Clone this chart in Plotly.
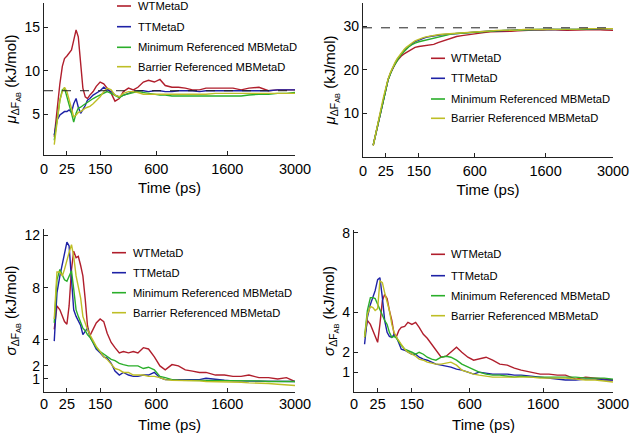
import numpy as np
import plotly.graph_objects as go

# ---------------- data ----------------
TIME_PS = [5, 8, 12, 16, 20, 25, 30, 36, 42, 49, 56, 64, 72, 81, 90, 100, 115, 130, 150,
           170, 190, 215, 240, 270, 300, 340, 380, 420, 470, 520, 580, 640, 700, 780, 860,
           950, 1050, 1150, 1250, 1400, 1550, 1700, 1850, 2000, 2200, 2400, 2600, 2800, 3000]

X_TICK_VALUES = [0, 25, 150, 600, 1600, 3000]
X_TICK_LABELS = ["0", "25", "150", "600", "1600", "3000"]

SERIES_NAMES = ["WTMetaD", "TTMetaD", "Minimum Referenced MBMetaD", "Barrier Referenced MBMetaD"]
SERIES_COLORS = ["#B01E2C", "#1E22A6", "#2AAE2A", "#BEBE26"]

# top-left panel: mean dF (system A)
MU_A_WT = [2.4, 5.5, 8.5, 10.5, 11.4, 11.7, 12.0, 12.4, 13.5, 14.7, 13.9, 10.5, 8.0, 7.0, 6.8, 7.2,
           7.6, 8.2, 8.7, 8.5, 8.0, 7.4, 6.5, 6.8, 7.6, 8.0, 7.8, 8.1, 8.7, 8.9, 8.7, 9.0, 8.3, 8.1,
           8.1, 8.0, 7.8, 7.8, 8.0, 8.0, 8.0, 8.0, 7.8, 8.0, 8.1, 7.7, 7.8, 7.8, 7.8]
MU_A_TT = [2.6, 4.3, 4.9, 5.1, 5.3, 5.3, 5.5, 5.2, 6.2, 6.8, 5.8, 5.1, 5.5, 6.0, 6.6, 6.8, 7.2,
           7.4, 7.7, 8.1, 7.8, 7.6, 7.2, 7.0, 7.2, 7.4, 7.6, 7.7, 7.7, 7.6, 7.7, 7.7, 7.6, 7.6,
           7.7, 7.7, 7.7, 7.6, 7.7, 7.7, 7.7, 7.7, 7.7, 7.7, 7.7, 7.7, 7.8, 7.8, 7.8]
MU_A_MIN = [2.0, 4.3, 6.6, 7.8, 8.0, 7.0, 6.2, 5.1, 4.1, 5.1, 5.7, 5.8, 6.0, 6.2, 6.4, 6.6, 6.8,
            7.0, 7.2, 7.4, 7.6, 7.4, 7.2, 6.9, 7.2, 7.4, 7.5, 7.6, 7.5, 7.4, 7.3, 7.2, 7.2, 7.1,
            7.1, 7.1, 7.1, 7.1, 7.1, 7.1, 7.1, 7.1, 7.1, 7.2, 7.3, 7.3, 7.4, 7.4, 7.5]
MU_A_BAR = [1.5, 3.9, 6.6, 7.6, 8.1, 7.6, 6.6, 5.8, 4.7, 4.9, 5.2, 5.3, 5.5, 5.7, 5.8, 5.9, 6.2,
            6.6, 7.0, 7.6, 8.0, 7.8, 7.2, 7.0, 7.4, 7.6, 7.6, 7.5, 7.3, 7.3, 7.3, 7.3, 7.3, 7.3,
            7.3, 7.3, 7.3, 7.3, 7.3, 7.4, 7.4, 7.4, 7.4, 7.4, 7.4, 7.4, 7.4, 7.4, 7.4]

# top-right panel: mean dF (system B)
MU_B_WT = [2.7, 5.4, 8.6, 11.2, 13.5, 15.8, 17.7, 19.2, 20.4, 21.3, 22.1, 22.8, 23.3, 23.7, 24.0,
           24.4, 24.9, 25.2, 25.4, 25.5, 25.6, 25.7, 25.9, 26.3, 26.6, 27.0, 27.3, 27.7, 27.9, 28.1,
           28.3, 28.5, 28.6, 28.8, 28.8, 28.9, 28.9, 29.0, 29.1, 29.2, 29.2, 29.3, 29.2, 29.1, 29.2,
           29.3, 29.3, 29.2, 29.1]
MU_B_TT = [2.7, 5.4, 8.6, 11.2, 13.5, 15.8, 17.7, 19.2, 20.5, 21.5, 22.4, 23.2, 23.9, 24.5, 25.0,
           25.5, 26.0, 26.5, 26.9, 27.2, 27.5, 27.7, 27.9, 28.0, 28.1, 28.2, 28.3, 28.4, 28.5, 28.6,
           28.7, 28.8, 28.9, 29.0, 29.0, 29.1, 29.1, 29.2, 29.2, 29.3, 29.3, 29.3, 29.3, 29.4, 29.4,
           29.4, 29.4, 29.5, 29.5]
MU_B_MIN = [2.7, 5.5, 8.8, 11.4, 13.6, 15.9, 17.7, 19.1, 20.4, 21.3, 22.2, 23.0, 23.7, 24.3, 24.8,
            25.3, 25.8, 26.2, 26.5, 26.7, 26.9, 27.1, 27.3, 27.6, 27.9, 28.1, 28.3, 28.4, 28.5, 28.6,
            28.7, 28.8, 28.9, 29.0, 29.0, 29.1, 29.1, 29.2, 29.2, 29.3, 29.3, 29.3, 29.3, 29.4, 29.4,
            29.4, 29.5, 29.5, 29.5]
MU_B_BAR = [2.6, 5.3, 8.7, 11.4, 13.7, 16.0, 17.9, 19.4, 20.7, 21.7, 22.6, 23.4, 24.1, 24.7, 25.2,
            25.7, 26.2, 26.7, 27.1, 27.4, 27.6, 27.8, 28.0, 28.1, 28.2, 28.3, 28.4, 28.5, 28.6, 28.7,
            28.8, 28.9, 28.9, 29.0, 29.1, 29.1, 29.2, 29.2, 29.3, 29.3, 29.3, 29.4, 29.4, 29.4, 29.4,
            29.5, 29.5, 29.5, 29.5]

# bottom-left panel: std of dF (system A)
SIG_A_WT = [4.8, 6.6, 6.3, 5.8, 5.4, 5.2, 6.6, 9.4, 10.8, 10.3, 10.4, 9.7, 8.9, 7.1, 5.1, 4.3, 4.8,
            5.3, 5.6, 5.4, 4.5, 3.8, 3.4, 3.0, 3.1, 3.0, 3.1, 3.0, 3.4, 3.3, 2.7, 2.0, 1.7, 2.1, 2.0,
            1.7, 1.6, 1.5, 1.5, 1.3, 1.3, 1.2, 1.2, 1.3, 1.1, 1.1, 1.0, 1.1, 0.8]
SIG_A_TT = [3.9, 7.6, 8.9, 9.9, 10.7, 11.5, 11.2, 8.9, 6.3, 5.8, 5.4, 5.1, 4.4, 4.7, 4.9, 4.3, 3.8,
            3.3, 3.0, 2.7, 2.6, 2.2, 1.6, 1.3, 1.5, 1.3, 1.2, 1.2, 1.3, 1.3, 1.5, 1.1, 0.95, 0.95,
            0.9, 0.9, 0.9, 0.95, 1.05, 0.95, 0.9, 0.85, 0.85, 0.85, 0.85, 0.8, 0.8, 0.8, 0.8]
SIG_A_MIN = [5.3, 8.6, 9.4, 9.0, 8.6, 8.5, 8.9, 9.3, 7.9, 6.3, 5.8, 5.3, 4.9, 4.7, 4.4, 4.2, 3.8,
             3.4, 3.1, 2.9, 2.7, 2.5, 2.4, 2.2, 2.1, 2.0, 2.0, 2.0, 1.8, 1.9, 1.7, 1.2, 1.1, 0.95,
             0.9, 0.9, 0.9, 0.9, 0.9, 0.9, 0.85, 0.85, 0.85, 0.85, 0.85, 0.8, 0.8, 0.8, 0.8]
SIG_A_BAR = [5.6, 9.2, 9.2, 8.9, 9.4, 10.2, 10.7, 11.3, 10.4, 8.9, 8.1, 7.2, 5.8, 5.2, 4.8, 4.4,
             3.9, 3.5, 3.1, 2.7, 2.5, 2.1, 1.8, 1.7, 1.5, 1.5, 1.3, 1.3, 1.3, 1.2, 1.2, 1.1, 0.95,
             0.9, 0.9, 0.85, 0.85, 0.85, 0.8, 0.8, 0.8, 0.75, 0.75, 0.7, 0.7, 0.65, 0.6, 0.55, 0.5]

# bottom-right panel: std of dF (system B)
SIG_B_WT = [2.75, 3.6, 3.4, 3.1, 2.75, 2.5, 3.4, 4.6, 4.9, 4.7, 4.1, 3.6, 2.9, 2.8, 3.1, 3.25,
            3.3, 3.5, 3.4, 3.5, 3.25, 2.9, 2.7, 2.4, 2.1, 1.75, 1.8, 2.0, 2.25, 2.0, 1.75, 1.6,
            1.65, 1.75, 1.6, 1.4, 1.35, 1.2, 1.1, 1.0, 0.9, 0.9, 0.85, 0.85, 0.65, 0.75, 0.7,
            0.65, 0.6]
SIG_B_TT = [2.4, 3.75, 4.4, 4.75, 5.1, 5.65, 5.75, 4.75, 3.6, 3.0, 2.8, 2.75, 2.9, 2.75, 2.4,
            2.15, 2.1, 2.0, 1.9, 1.9, 1.75, 1.65, 1.6, 1.5, 1.4, 1.35, 1.3, 1.25, 1.15, 1.1, 1.0,
            0.9, 1.0, 0.95, 0.9, 0.9, 0.9, 0.85, 0.85, 0.8, 0.75, 0.7, 0.65, 0.6, 0.6, 0.65, 0.65,
            0.6, 0.6]
SIG_B_MIN = [2.75, 4.1, 4.75, 4.75, 4.7, 4.4, 4.2, 3.9, 3.6, 3.4, 3.0, 2.75, 2.8, 2.7, 2.5, 2.35,
             2.15, 2.1, 2.0, 1.9, 2.0, 1.9, 1.75, 1.65, 1.6, 1.75, 1.8, 1.75, 1.6, 1.4, 1.25, 1.1,
             1.0, 0.9, 0.85, 0.85, 0.8, 0.75, 0.8, 0.75, 0.75, 0.75, 0.75, 0.75, 0.75, 0.7, 0.7,
             0.7, 0.65]
SIG_B_BAR = [2.75, 3.9, 4.3, 4.25, 4.1, 4.2, 5.6, 5.5, 5.0, 4.6, 4.1, 3.4, 3.0, 2.75, 2.6, 2.4,
             2.15, 2.0, 1.9, 1.8, 1.65, 1.6, 1.5, 1.45, 1.4, 1.4, 1.45, 1.5, 1.35, 1.1, 1.0, 0.9,
             0.85, 0.8, 0.75, 0.75, 0.75, 0.75, 0.75, 0.75, 0.7, 0.7, 0.7, 0.7, 0.65, 0.6, 0.6,
             0.55, 0.5]

MU_REFERENCE = [7.7, 29.7]   # dashed reference lines (top panels)

Y_TICKS = [[5, 10, 15], [10, 20, 30], [1, 2, 4, 8, 12], [1, 2, 4, 8]]
Y_RANGES = [[0.3, 17.8], [0, 35.4], [0, 12.5], [0, 8.15]]

MU_TITLE = "<i>μ</i><sub>ΔF<sub>AB</sub></sub> (kJ/mol)"
SIG_TITLE = "<i>σ</i><sub>ΔF<sub>AB</sub></sub> (kJ/mol)"

# ---------------- layout geometry (pixels -> paper fractions) ----------------
W, H = 631, 435


def fx(px):
    return px / W


def fy(py):
    return 1 - py / H


panels = [
    dict(series=[MU_A_WT, MU_A_TT, MU_A_MIN, MU_A_BAR], xdom=[fx(44), fx(295)],
         ydom=[fy(155), fy(3)], ytitle=MU_TITLE, ref=MU_REFERENCE[0],
         xstand=0, tstand=6, leg_line=117, leg_text=135.5, leg_y=[6, 26.7, 47.3, 66.7]),
    dict(series=[MU_B_WT, MU_B_TT, MU_B_MIN, MU_B_BAR], xdom=[fx(363), fx(613)],
         ydom=[fy(157), fy(3)], ytitle=MU_TITLE, ref=MU_REFERENCE[1],
         xstand=0, tstand=6, leg_line=431, leg_text=449, leg_y=[58.3, 78.3, 99, 118.3]),
    dict(series=[SIG_A_WT, SIG_A_TT, SIG_A_MIN, SIG_A_BAR], xdom=[fx(44), fx(295)],
         ydom=[fy(392), fy(229)], ytitle=SIG_TITLE, ref=None,
         xstand=-2, tstand=8, leg_line=112, leg_text=130.5, leg_y=[252.7, 272.7, 292.7, 312.7]),
    dict(series=[SIG_B_WT, SIG_B_TT, SIG_B_MIN, SIG_B_BAR], xdom=[fx(354), fx(613)],
         ydom=[fy(392), fy(230)], ytitle=SIG_TITLE, ref=None,
         xstand=-2, tstand=8, leg_line=431, leg_text=449, leg_y=[254.3, 275.7, 295.7, 315.7]),
]

FONT = "Arial, Liberation Sans, Helvetica, sans-serif"
x_sqrt = np.sqrt(np.array(TIME_PS, dtype=float))
x_max = np.sqrt(3000.0)

fig = go.Figure()
layout = dict(
    width=W, height=H, margin=dict(l=0, r=0, t=0, b=0, autoexpand=False),
    paper_bgcolor="white", plot_bgcolor="white",
    font=dict(family=FONT, color="black", size=14),
    showlegend=False, shapes=[], annotations=[],
)

for i, p in enumerate(panels):
    n = "" if i == 0 else str(i + 1)
    for k, (vals, name, col) in enumerate(zip(p["series"], SERIES_NAMES, SERIES_COLORS)):
        fig.add_trace(go.Scatter(
            x=x_sqrt, y=vals, mode="lines", name=name,
            line=dict(color=col, width=1.4),
            xaxis="x" + n, yaxis="y" + n,
        ))
        # legend entry (line sample + label)
        ly = fy(p["leg_y"][k])
        layout["shapes"].append(dict(
            type="line", xref="paper", yref="paper", x0=fx(p["leg_line"]),
            x1=fx(p["leg_line"] + 14), y0=ly, y1=ly, line=dict(color=col, width=1.6),
        ))
        layout["annotations"].append(dict(
            text=name, xref="paper", yref="paper", x=fx(p["leg_text"]), y=ly,
            xanchor="left", yanchor="middle", showarrow=False,
            font=dict(size=11.2, family=FONT, color="black"),
        ))
    layout["xaxis" + n] = dict(
        domain=p["xdom"], anchor="y" + n, range=[0, x_max], automargin=False,
        tickvals=np.sqrt(np.array(X_TICK_VALUES, dtype=float)), ticktext=X_TICK_LABELS,
        ticks="inside", ticklen=4, tickcolor="#222", showline=True, linecolor="#222",
        linewidth=1.2, showgrid=False, zeroline=False, tickfont=dict(size=14.5),
        ticklabelstandoff=p["xstand"],
        title=dict(text="Time (ps)", font=dict(size=15), standoff=p["tstand"]),
    )
    layout["yaxis" + n] = dict(
        domain=p["ydom"], anchor="x" + n, range=Y_RANGES[i], tickvals=Y_TICKS[i],
        automargin=False,
        ticks="inside", ticklen=4, tickcolor="#222", showline=True, linecolor="#222",
        linewidth=1.2, showgrid=False, zeroline=False, tickfont=dict(size=14),
        title=dict(text=p["ytitle"], font=dict(size=15), standoff=4),
    )
    if p["ref"] is not None:
        layout["shapes"].append(dict(
            type="line", xref=f"x{n} domain", yref="y" + n, x0=0, x1=1,
            y0=p["ref"], y1=p["ref"], line=dict(color="#222", width=1, dash="dash"),
        ))

fig.update_layout(**layout)
fig.write_html("out.html", config={"displayModeBar": False},
               post_script="document.body.style.margin='0px';")
